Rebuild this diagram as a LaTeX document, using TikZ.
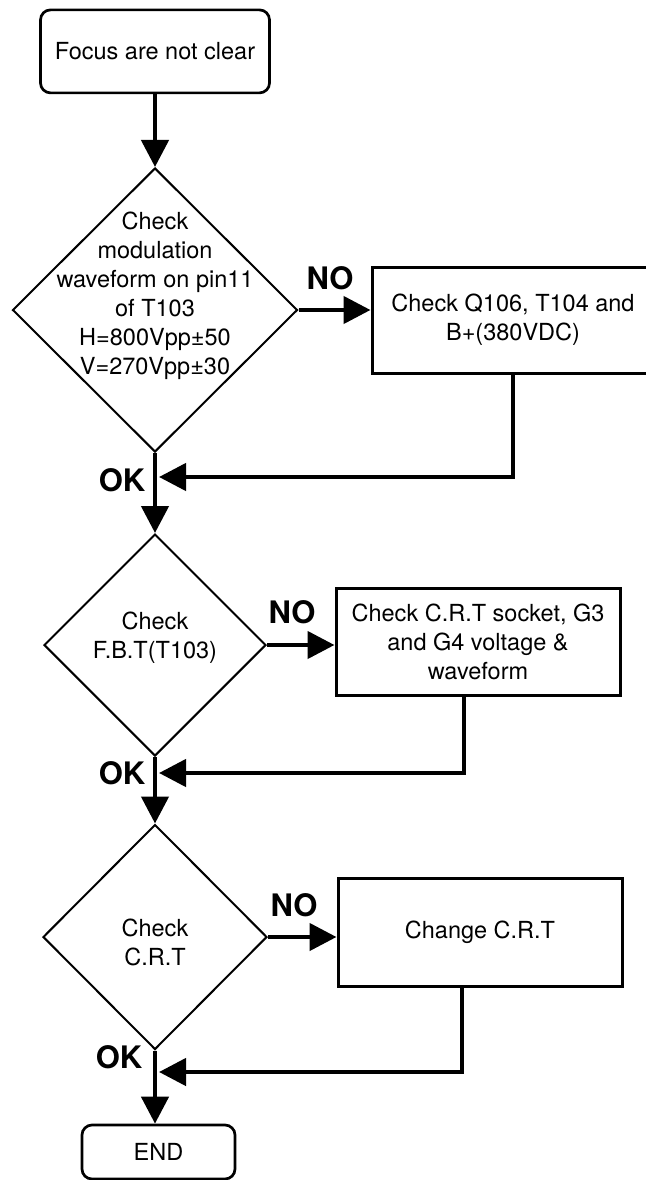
\documentclass[tikz,border=0pt]{standalone}
\usepackage{fontspec}
\setmainfont{TeX Gyre Heros}
\usetikzlibrary{arrows.meta,shapes.geometric}

\begin{document}
\begin{tikzpicture}[x=1pt, y=-1pt,
	every node/.style={font=\fontsize{23.5}{29}\selectfont, inner sep=0pt, align=center},
	terminal/.style={draw, line width=2.7pt, rounded corners=10pt},
	decision/.style={draw, diamond, line width=2pt},
	process/.style={draw, rectangle, line width=3pt},
	flow/.style={line width=4.5pt, -{Triangle[length=27pt, width=27pt]}},
	answer/.style={font=\fontsize{31}{31}\selectfont\bfseries}]
	\useasboundingbox (0,0) rectangle (645,1180);
	\node[terminal, minimum width=229pt, minimum height=83pt] (start) at (155,51.4) {Focus are not clear};
	\node[decision, minimum width=285pt, minimum height=284pt] (chk1) at (155,310) {};
	\node (chk1txt) at (155,296) {Check\\modulation\\waveform on pin11\\of T103\\H=800Vpp±50\\V=270Vpp±30};
	\node[process, minimum width=282pt, minimum height=106pt] (fix1) at (513,320) {Check Q106, T104 and\\B+(380VDC)};
	\node[decision, minimum width=222pt, minimum height=222pt] (chk2) at (155,645) {};
	\node (chk2txt) at (155,638) {Check\\F.B.T(T103)};
	\node[process, minimum width=284pt, minimum height=107pt] (fix2) at (478,641.5) {Check C.R.T socket, G3\\and G4 voltage \&\\waveform};
	\node[decision, minimum width=224pt, minimum height=225pt] (chk3) at (155,937) {};
	\node (chk3txt) at (155,942) {Check\\C.R.T};
	\node[process, minimum width=284pt, minimum height=108pt] (fix3) at (480,932) {Change C.R.T};
	\node[terminal, minimum width=153pt, minimum height=54pt] (stop) at (158.5,1152) {END};
	\node[answer] (no1) at (330,278) {NO};
	\node[answer] (no2) at (292,612) {NO};
	\node[answer] (no3) at (294,905) {NO};
	\node[answer] (ok1) at (122,480) {OK};
	\node[answer] (ok2) at (122,773) {OK};
	\node[answer] (ok3) at (119,1057) {OK};
	\coordinate (j1) at (159,477);
	\coordinate (j2) at (159,773);
	\coordinate (j3) at (159,1072);
	\draw[flow] (start.south) -- (chk1.north);
	\draw[flow] (chk1.east) -- (chk1.east -| fix1.west);
	\draw[flow] (fix1.south) |- (j1);
	\draw[flow] (chk1.south) -- (chk2.north);
	\draw[flow] (chk2.east) -- (chk2.east -| fix2.west);
	\draw[flow] ([xshift=-14pt]fix2.south) |- (j2);
	\draw[flow] (chk2.south) -- (chk3.north);
	\draw[flow] (chk3.east) -- (chk3.east -| fix3.west);
	\draw[flow] ([xshift=-18pt]fix3.south) |- (j3);
	\draw[flow] (chk3.south) -- (chk3.south |- stop.north);
\end{tikzpicture}
\end{document}
